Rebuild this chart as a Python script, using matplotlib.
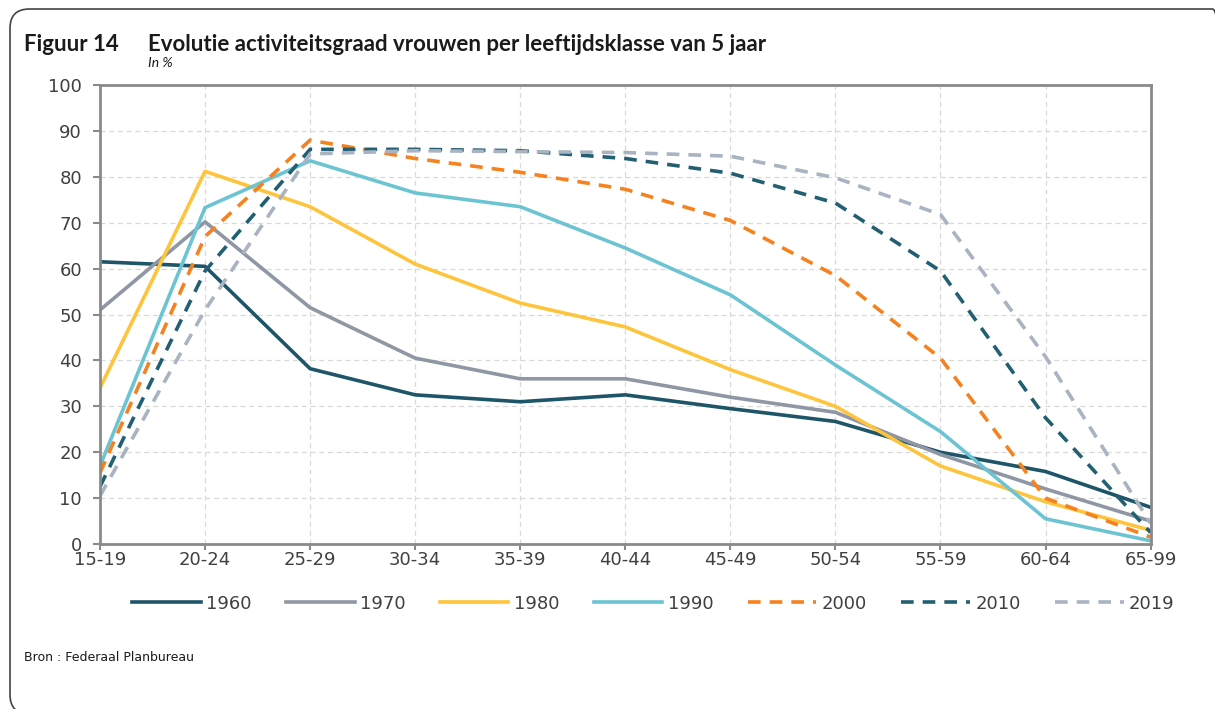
import matplotlib.pyplot as plt
from matplotlib.patches import FancyBboxPatch

# leeftijdsklassen en activiteitsgraad (in %)
age_groups = ['15-19', '20-24', '25-29', '30-34', '35-39', '40-44',
              '45-49', '50-54', '55-59', '60-64', '65-99']
y1960 = [61.5, 60.5, 38.2, 32.5, 31.0, 32.5, 29.5, 26.7, 20.0, 15.8, 8.0]
y1970 = [51.0, 70.2, 51.5, 40.5, 36.0, 36.0, 32.0, 28.7, 19.5, 12.0, 5.0]
y1980 = [34.0, 81.2, 73.5, 61.0, 52.5, 47.3, 38.0, 30.0, 17.0, 9.2, 3.0]
y1990 = [17.0, 73.3, 83.5, 76.5, 73.5, 64.5, 54.3, 39.0, 24.5, 5.5, 0.7]
y2000 = [15.5, 67.0, 88.0, 84.0, 81.0, 77.3, 70.5, 58.5, 40.5, 10.0, 1.5]
y2010 = [12.5, 59.5, 86.0, 86.0, 85.7, 84.0, 80.8, 74.3, 59.5, 27.5, 2.5]
y2019 = [10.5, 51.0, 85.0, 85.7, 85.5, 85.3, 84.5, 79.8, 71.8, 40.8, 4.5]

years = ['1960', '1970', '1980', '1990', '2000', '2010', '2019']
series = [y1960, y1970, y1980, y1990, y2000, y2010, y2019]
colors = ['#1f5568', '#8f97a4', '#fdc43c', '#6cc4d3', '#f5821f', '#235f72', '#a9b3c1']
dashed = [False, False, False, False, True, True, True]

fig = plt.figure(figsize=(12.15, 7.09), dpi=100)
ax = fig.add_axes([0.0823, 0.2327, 0.8647, 0.6473])

x = list(range(len(age_groups)))
for vals, lab, col, d in zip(series, years, colors, dashed):
    if d:
        ax.plot(x, vals, color=col, lw=2.6, label=lab, linestyle=(0, (3.5, 2.5)))
    else:
        ax.plot(x, vals, color=col, lw=2.6, label=lab)

ax.set_xlim(0, len(age_groups) - 1)
ax.set_ylim(0, 100)
ax.set_yticks(range(0, 101, 10))
ax.set_xticks(x)
ax.set_xticklabels(age_groups)
ax.grid(True, color='#d9d9d9', linestyle=(0, (4, 3)), lw=0.9)
ax.set_axisbelow(True)
for s in ax.spines.values():
    s.set_color('#8a8a8a')
    s.set_linewidth(2)
ax.tick_params(axis='both', colors='#8a8a8a', width=1.5,
               labelsize=13, labelcolor='#404040')
ax.tick_params(axis='y', length=5, pad=8)
ax.tick_params(axis='x', length=4, pad=1)

ax.legend(loc='upper center', bbox_to_anchor=(0.5267, -0.075), ncol=7,
          frameon=False, fontsize=13, handlelength=3.8, handletextpad=0.3,
          columnspacing=1.9, labelcolor='#404040')

fig.text(0.0198, 0.928, 'Figuur 14', fontsize=16, fontweight='bold',
         color='#1a1a1a', family='Lato')
fig.text(0.1218, 0.928, 'Evolutie activiteitsgraad vrouwen per leeftijdsklasse van 5 jaar',
         fontsize=16, fontweight='bold', color='#1a1a1a', family='Lato')
fig.text(0.1218, 0.906, 'In %', fontsize=10, style='italic', color='#1a1a1a', family='Lato')
fig.text(0.0198, 0.067, 'Bron : Federaal Planbureau', fontsize=9, color='#1a1a1a')

# kader rond de figuur (rechts en onder buiten beeld)
box = FancyBboxPatch((10 / 1215, -5 / 709), 1222 / 1215, 705 / 709,
                     boxstyle='round,pad=0,rounding_size=0.016',
                     transform=fig.transFigure, fill=False,
                     edgecolor='#444444', lw=1.2, mutation_aspect=1.7)
fig.patches.append(box)

fig.savefig('out.png', dpi=100)
